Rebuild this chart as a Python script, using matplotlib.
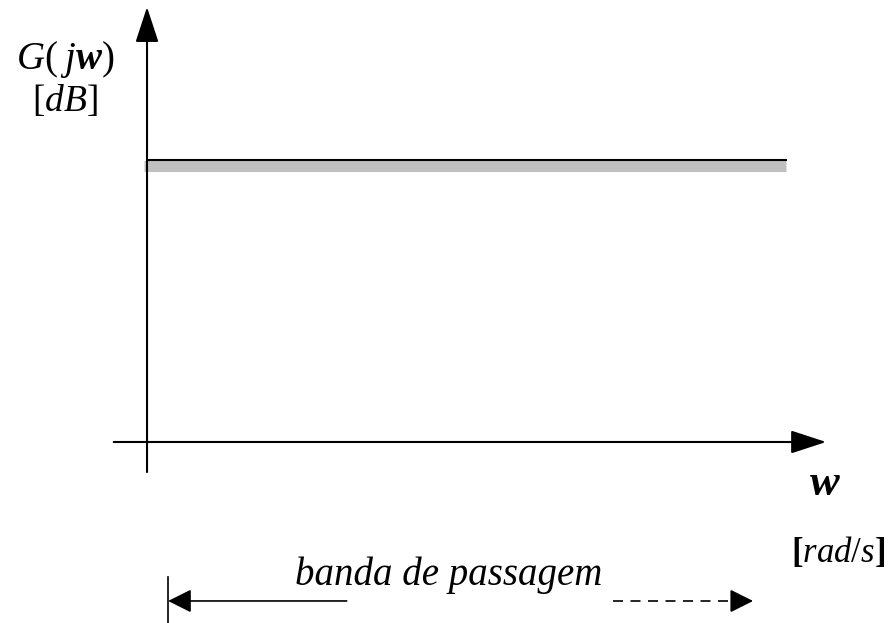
import matplotlib
matplotlib.use("Agg")
import matplotlib.pyplot as plt
from matplotlib.transforms import offset_copy

plt.rcParams["mathtext.fontset"] = "custom"
plt.rcParams["mathtext.rm"] = "Liberation Serif"
plt.rcParams["mathtext.it"] = "Liberation Serif:italic"
plt.rcParams["mathtext.bf"] = "Liberation Serif:bold"
plt.rcParams["mathtext.bfit"] = "Liberation Serif:bold:italic"

# ideal low-pass magnitude (arbitrary units)
band_w = [0, 10]
band_gain = [10.2, 10.2]

# axis extents
w_axis = [-0.52, 10.61]
g_axis = [-1.09, 15.76]

# "banda de passagem" marker
band_y = -5.76
band_start = 0.33
band_solid_end = 3.12
band_dash_start = 7.28
band_end = 9.47
tick_span = [-4.89, -6.55]

fig = plt.figure(figsize=(8.92, 6.23), dpi=100)
ax = fig.add_axes([0, 0, 1, 1])
ax.set_xlim(-2.297, 11.64)
ax.set_ylim(-6.558, 16.014)
ax.axis("off")

def head(tip, base, length=1.1, lw=1.5):
    ax.annotate("", xy=tip, xytext=base,
                arrowprops=dict(arrowstyle="-|>,head_length=%s,head_width=0.36" % length,
                                mutation_scale=20, lw=lw, color="black",
                                shrinkA=0, shrinkB=0))

# axes
head((0, g_axis[1]), (0, g_axis[0]))
head((w_axis[1], 0), (w_axis[0], 0))

# passband response: black line with a grey shadow below
shadow = offset_copy(ax.transData, fig=fig, x=-1, y=-5.5, units="dots")
ax.plot([band_w[0] - 0.03, band_w[1]], band_gain, color="#c0c0c0", lw=8,
        solid_capstyle="butt", transform=shadow)
ax.plot(band_w, band_gain, color="black", lw=1.5, solid_capstyle="butt")

# labels
ax.text(-1.27, 13.85, r"$G(\;j\mathbfit{w})$", fontsize=28, ha="center", va="center")
ax.text(-1.28, 12.35, r"$[dB]$", fontsize=27, ha="center", va="center")
ax.text(10.59, -1.45, r"$\mathbfit{w}$", fontsize=32, ha="center", va="center")
ax.text(10.80, -3.95, r"$\mathbf{[}\mathit{rad/s}\mathbf{]}$", fontsize=25,
        ha="center", va="center")

# pass band marker
ax.plot([band_start, band_start], tick_span, color="black", lw=1.2)
head((band_start, band_y), (band_solid_end, band_y), length=0.72, lw=1.2)
ax.plot([band_dash_start, band_end - 0.3], [band_y, band_y], color="black",
        lw=1.2, dashes=(6, 4.5))
head((band_end, band_y), (band_end - 0.32, band_y), length=0.72, lw=1.2)
ax.text(2.31, -5.18, "banda de passagem", fontsize=28, family="Liberation Serif",
        style="italic", ha="left", va="baseline")

fig.savefig("out.png", dpi=100)
